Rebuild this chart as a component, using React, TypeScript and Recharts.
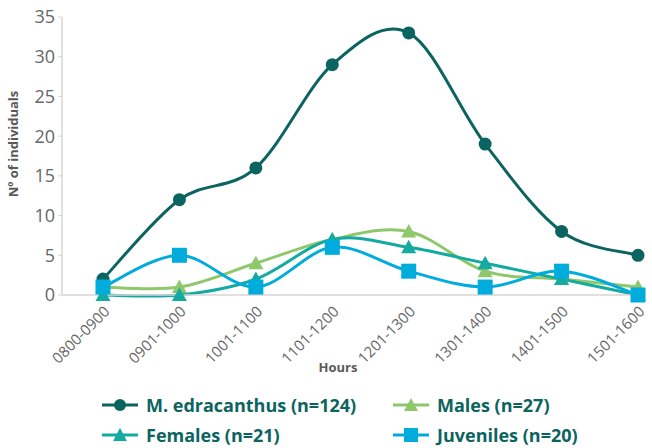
import React from "react";
import { LineChart, Line, XAxis, YAxis } from "recharts";

const hours = ["0800-0900", "0901-1000", "1001-1100", "1101-1200", "1201-1300", "1301-1400", "1401-1500", "1501-1600"];
const edracanthus = [2, 12, 16, 29, 33, 19, 8, 5];
const males = [1, 1, 4, 7, 8, 3, 2, 1];
const females = [0, 0, 2, 7, 6, 4, 2, 0];
const juveniles = [1, 5, 1, 6, 3, 1, 3, 0];
const yTicks = [0, 5, 10, 15, 20, 25, 30, 35];

const data = hours.map((h, i) => ({
  hour: h,
  all: edracanthus[i],
  males: males[i],
  females: females[i],
  juveniles: juveniles[i],
}));

const C_ALL = "#0b6460";
const C_MALES = "#8ec86b";
const C_FEMALES = "#14a9a1";
const C_JUV = "#00acdc";
const FONT = "'Open Sans', sans-serif";

// smooth line like the spreadsheet one (catmull-rom through the points)
function smoothCurve(context: any) {
  let pts: number[][] = [];
  return {
    areaStart() {},
    areaEnd() {},
    lineStart() {
      pts = [];
    },
    lineEnd() {
      const n = pts.length;
      if (!n) return;
      context.moveTo(pts[0][0], pts[0][1]);
      for (let i = 0; i < n - 1; i++) {
        const p0 = pts[i - 1] || pts[i];
        const p1 = pts[i];
        const p2 = pts[i + 1];
        const p3 = pts[i + 2] || p2;
        context.bezierCurveTo(
          p1[0] + (p2[0] - p0[0]) / 6,
          p1[1] + (p2[1] - p0[1]) / 6,
          p2[0] - (p3[0] - p1[0]) / 6,
          p2[1] - (p3[1] - p1[1]) / 6,
          p2[0],
          p2[1]
        );
      }
    },
    point(x: number, y: number) {
      pts.push([+x, +y]);
    },
  };
}

const circleDot = (color: string) => (p: any) =>
  <circle key={p.index} cx={p.cx} cy={p.cy} r={6.5} fill={color} />;

const triDot = (color: string) => (p: any) =>
  <polygon
    key={p.index}
    points={`${p.cx},${p.cy - 7.5} ${p.cx + 7.5},${p.cy + 6} ${p.cx - 7.5},${p.cy + 6}`}
    fill={color}
  />;

const squareDot = (color: string) => (p: any) =>
  <rect key={p.index} x={p.cx - 7.5} y={p.cy - 7.5} width={15} height={15} fill={color} />;

function LegendIcon({ color, shape }: { color: string; shape: string }) {
  return (
    <svg width={36} height={16} style={{ marginRight: 8 }}>
      <line x1={0} y1={8} x2={36} y2={8} stroke={color} strokeWidth={3} />
      {shape === "circle" && <circle cx={18} cy={8} r={6} fill={color} />}
      {shape === "tri" && <polygon points="18,1 25,14 11,14" fill={color} />}
      {shape === "square" && <rect x={11} y={1} width={14} height={14} fill={color} />}
    </svg>
  );
}

const legendItems = [
  { label: "M. edracanthus (n=124)", color: C_ALL, shape: "circle", x: 102, y: 393 },
  { label: "Males (n=27)", color: C_MALES, shape: "tri", x: 393, y: 393 },
  { label: "Females (n=21)", color: C_FEMALES, shape: "tri", x: 102, y: 423 },
  { label: "Juveniles (n=20)", color: C_JUV, shape: "square", x: 393, y: 423 },
];

export default function App() {
  return (
    <div style={{ position: "fixed", left: 0, top: 0, width: 652, height: 448, background: "#fff" }}>
      <LineChart width={652} height={448} data={data} margin={{ top: 17, right: 14, left: 0, bottom: 73 }}>
        <XAxis
          dataKey="hour"
          padding={{ left: 41, right: 0 }}
          axisLine={{ stroke: "#d6d6d6", strokeWidth: 1.5 }}
          tickLine={false}
          interval={0}
          angle={-45}
          textAnchor="end"
          height={80}
          tick={{ fill: "#666", fontSize: 15, fontFamily: FONT, dy: 2 }}
          label={{ value: "Hours", position: "insideBottom", offset: 3, dx: -12, fill: "#595959", fontSize: 13, fontWeight: 700, fontFamily: FONT }}
        />
        <YAxis
          domain={[0, 35]}
          ticks={yTicks}
          width={62}
          axisLine={{ stroke: "#d6d6d6", strokeWidth: 1.5 }}
          tickLine={{ stroke: "#d6d6d6" }}
          tickSize={4}
          tickMargin={3}
          tick={{ fill: "#666", fontSize: 18, fontFamily: FONT }}
          label={{ value: "Nº of individuals", angle: -90, position: "insideLeft", offset: 13, dy: -12, fill: "#595959", fontSize: 13, fontWeight: 700, fontFamily: FONT, style: { textAnchor: "middle" } }}
        />
        <Line dataKey="all" type={smoothCurve as any} stroke={C_ALL} strokeWidth={3} dot={circleDot(C_ALL)} isAnimationActive={false} />
        <Line dataKey="males" type={smoothCurve as any} stroke={C_MALES} strokeWidth={3} dot={triDot(C_MALES)} isAnimationActive={false} />
        <Line dataKey="females" type={smoothCurve as any} stroke={C_FEMALES} strokeWidth={3} dot={triDot(C_FEMALES)} isAnimationActive={false} />
        <Line dataKey="juveniles" type={smoothCurve as any} stroke={C_JUV} strokeWidth={3} dot={squareDot(C_JUV)} isAnimationActive={false} />
      </LineChart>
      {legendItems.map((it) => (
        <div
          key={it.label}
          style={{
            position: "absolute",
            left: it.x,
            top: it.y,
            display: "flex",
            alignItems: "center",
            fontFamily: FONT,
            fontWeight: 700,
            fontSize: 18,
            lineHeight: "24px",
            color: C_ALL,
            whiteSpace: "nowrap",
          }}
        >
          <LegendIcon color={it.color} shape={it.shape} />
          {it.label}
        </div>
      ))}
    </div>
  );
}
